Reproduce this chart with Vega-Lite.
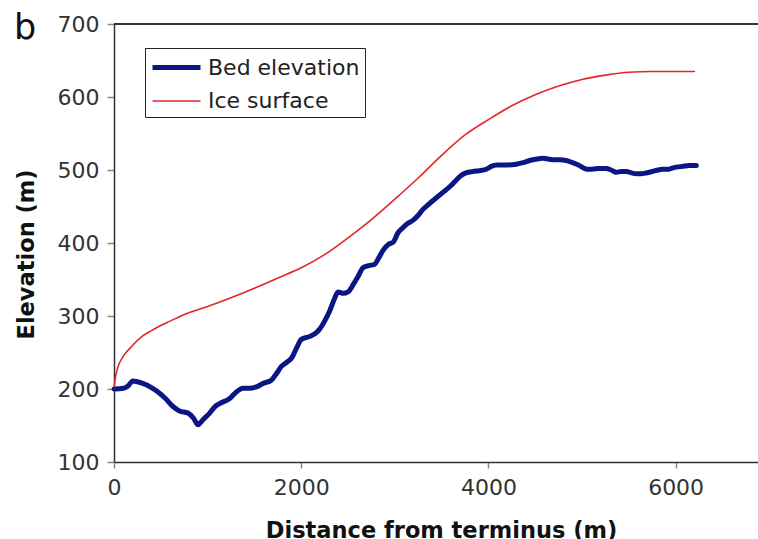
{
  "$schema": "https://vega.github.io/schema/vega-lite/v6.json",
  "width": 644,
  "height": 438,
  "autosize": "none",
  "padding": {"left": 114, "top": 24, "right": 0, "bottom": 77},
  "background": "white",
  "title": {"text": "b", "anchor": "start", "frame": "group", "orient": "top", "fontSize": 35, "fontWeight": "normal", "font": "DejaVu Sans", "color": "#111", "baseline": "alphabetic", "offset": 0, "dx": -100, "dy": 61},
  "config": {
    "view": {"stroke": null},
    "font": "DejaVu Sans",
    "axis": {"labelFont": "DejaVu Sans", "titleFont": "DejaVu Sans", "labelColor": "#333", "titleColor": "#111", "domainColor": "#333", "domainWidth": 1.5, "tickColor": "#888", "tickWidth": 1.5, "grid": false}
  },
  "data": {"values": [
    {"d": 0, "e": 200, "s": "Bed elevation"},
    {"d": 100, "e": 201, "s": "Bed elevation"},
    {"d": 150, "e": 204, "s": "Bed elevation"},
    {"d": 200, "e": 211, "s": "Bed elevation"},
    {"d": 300, "e": 208, "s": "Bed elevation"},
    {"d": 400, "e": 202, "s": "Bed elevation"},
    {"d": 470, "e": 196, "s": "Bed elevation"},
    {"d": 550, "e": 187, "s": "Bed elevation"},
    {"d": 630, "e": 176, "s": "Bed elevation"},
    {"d": 700, "e": 170, "s": "Bed elevation"},
    {"d": 790, "e": 167, "s": "Bed elevation"},
    {"d": 850, "e": 160, "s": "Bed elevation"},
    {"d": 897, "e": 151, "s": "Bed elevation"},
    {"d": 950, "e": 158, "s": "Bed elevation"},
    {"d": 1022, "e": 167, "s": "Bed elevation"},
    {"d": 1080, "e": 176, "s": "Bed elevation"},
    {"d": 1129, "e": 180, "s": "Bed elevation"},
    {"d": 1236, "e": 187, "s": "Bed elevation"},
    {"d": 1300, "e": 195, "s": "Bed elevation"},
    {"d": 1378, "e": 201, "s": "Bed elevation"},
    {"d": 1450, "e": 201, "s": "Bed elevation"},
    {"d": 1521, "e": 203, "s": "Bed elevation"},
    {"d": 1600, "e": 208, "s": "Bed elevation"},
    {"d": 1681, "e": 212, "s": "Bed elevation"},
    {"d": 1740, "e": 222, "s": "Bed elevation"},
    {"d": 1788, "e": 231, "s": "Bed elevation"},
    {"d": 1850, "e": 237, "s": "Bed elevation"},
    {"d": 1895, "e": 242, "s": "Bed elevation"},
    {"d": 1950, "e": 256, "s": "Bed elevation"},
    {"d": 2001, "e": 268, "s": "Bed elevation"},
    {"d": 2091, "e": 272, "s": "Bed elevation"},
    {"d": 2150, "e": 276, "s": "Bed elevation"},
    {"d": 2197, "e": 282, "s": "Bed elevation"},
    {"d": 2250, "e": 293, "s": "Bed elevation"},
    {"d": 2304, "e": 307, "s": "Bed elevation"},
    {"d": 2350, "e": 322, "s": "Bed elevation"},
    {"d": 2393, "e": 333, "s": "Bed elevation"},
    {"d": 2450, "e": 331, "s": "Bed elevation"},
    {"d": 2500, "e": 333, "s": "Bed elevation"},
    {"d": 2560, "e": 344, "s": "Bed elevation"},
    {"d": 2607, "e": 354, "s": "Bed elevation"},
    {"d": 2660, "e": 366, "s": "Bed elevation"},
    {"d": 2720, "e": 369, "s": "Bed elevation"},
    {"d": 2785, "e": 371, "s": "Bed elevation"},
    {"d": 2830, "e": 380, "s": "Bed elevation"},
    {"d": 2874, "e": 390, "s": "Bed elevation"},
    {"d": 2930, "e": 398, "s": "Bed elevation"},
    {"d": 2981, "e": 401, "s": "Bed elevation"},
    {"d": 3034, "e": 414, "s": "Bed elevation"},
    {"d": 3087, "e": 421, "s": "Bed elevation"},
    {"d": 3140, "e": 427, "s": "Bed elevation"},
    {"d": 3194, "e": 431, "s": "Bed elevation"},
    {"d": 3250, "e": 438, "s": "Bed elevation"},
    {"d": 3301, "e": 446, "s": "Bed elevation"},
    {"d": 3370, "e": 454, "s": "Bed elevation"},
    {"d": 3444, "e": 462, "s": "Bed elevation"},
    {"d": 3510, "e": 469, "s": "Bed elevation"},
    {"d": 3586, "e": 477, "s": "Bed elevation"},
    {"d": 3640, "e": 484, "s": "Bed elevation"},
    {"d": 3693, "e": 491, "s": "Bed elevation"},
    {"d": 3760, "e": 496, "s": "Bed elevation"},
    {"d": 3835, "e": 498, "s": "Bed elevation"},
    {"d": 3900, "e": 499, "s": "Bed elevation"},
    {"d": 3978, "e": 501, "s": "Bed elevation"},
    {"d": 4030, "e": 505, "s": "Bed elevation"},
    {"d": 4085, "e": 507, "s": "Bed elevation"},
    {"d": 4200, "e": 507, "s": "Bed elevation"},
    {"d": 4298, "e": 508, "s": "Bed elevation"},
    {"d": 4370, "e": 510, "s": "Bed elevation"},
    {"d": 4440, "e": 513, "s": "Bed elevation"},
    {"d": 4520, "e": 515, "s": "Bed elevation"},
    {"d": 4582, "e": 516, "s": "Bed elevation"},
    {"d": 4689, "e": 514, "s": "Bed elevation"},
    {"d": 4760, "e": 514, "s": "Bed elevation"},
    {"d": 4832, "e": 513, "s": "Bed elevation"},
    {"d": 4900, "e": 510, "s": "Bed elevation"},
    {"d": 4974, "e": 506, "s": "Bed elevation"},
    {"d": 5030, "e": 502, "s": "Bed elevation"},
    {"d": 5081, "e": 501, "s": "Bed elevation"},
    {"d": 5170, "e": 502, "s": "Bed elevation"},
    {"d": 5259, "e": 502, "s": "Bed elevation"},
    {"d": 5310, "e": 500, "s": "Bed elevation"},
    {"d": 5366, "e": 497, "s": "Bed elevation"},
    {"d": 5420, "e": 498, "s": "Bed elevation"},
    {"d": 5473, "e": 498, "s": "Bed elevation"},
    {"d": 5530, "e": 496, "s": "Bed elevation"},
    {"d": 5580, "e": 495, "s": "Bed elevation"},
    {"d": 5630, "e": 495, "s": "Bed elevation"},
    {"d": 5687, "e": 496, "s": "Bed elevation"},
    {"d": 5780, "e": 499, "s": "Bed elevation"},
    {"d": 5864, "e": 501, "s": "Bed elevation"},
    {"d": 5920, "e": 501, "s": "Bed elevation"},
    {"d": 5971, "e": 503, "s": "Bed elevation"},
    {"d": 6078, "e": 505, "s": "Bed elevation"},
    {"d": 6150, "e": 506, "s": "Bed elevation"},
    {"d": 6221, "e": 506, "s": "Bed elevation"},
    {"d": 0, "e": 203, "s": "Ice surface"},
    {"d": 25, "e": 222, "s": "Ice surface"},
    {"d": 50, "e": 233, "s": "Ice surface"},
    {"d": 100, "e": 245, "s": "Ice surface"},
    {"d": 200, "e": 260, "s": "Ice surface"},
    {"d": 300, "e": 272, "s": "Ice surface"},
    {"d": 400, "e": 280, "s": "Ice surface"},
    {"d": 500, "e": 287, "s": "Ice surface"},
    {"d": 600, "e": 293, "s": "Ice surface"},
    {"d": 750, "e": 302, "s": "Ice surface"},
    {"d": 1000, "e": 313, "s": "Ice surface"},
    {"d": 1250, "e": 325, "s": "Ice surface"},
    {"d": 1500, "e": 338, "s": "Ice surface"},
    {"d": 1750, "e": 352, "s": "Ice surface"},
    {"d": 2000, "e": 366, "s": "Ice surface"},
    {"d": 2250, "e": 384, "s": "Ice surface"},
    {"d": 2500, "e": 407, "s": "Ice surface"},
    {"d": 2750, "e": 432, "s": "Ice surface"},
    {"d": 3000, "e": 460, "s": "Ice surface"},
    {"d": 3250, "e": 489, "s": "Ice surface"},
    {"d": 3500, "e": 520, "s": "Ice surface"},
    {"d": 3750, "e": 548, "s": "Ice surface"},
    {"d": 4000, "e": 569, "s": "Ice surface"},
    {"d": 4250, "e": 588, "s": "Ice surface"},
    {"d": 4500, "e": 603, "s": "Ice surface"},
    {"d": 4750, "e": 615, "s": "Ice surface"},
    {"d": 5000, "e": 624, "s": "Ice surface"},
    {"d": 5250, "e": 630, "s": "Ice surface"},
    {"d": 5500, "e": 634, "s": "Ice surface"},
    {"d": 5750, "e": 635, "s": "Ice surface"},
    {"d": 6000, "e": 635, "s": "Ice surface"},
    {"d": 6200, "e": 635, "s": "Ice surface"}
  ]},
  "layer": [
    {
      "mark": {"type": "rule", "color": "#333", "strokeWidth": 1.5},
      "encoding": {"y": {"datum": 700, "type": "quantitative", "scale": {"domain": [100, 700], "nice": false, "zero": false}}}
    },
    {
      "mark": {"type": "line", "interpolate": "monotone", "strokeCap": "round", "strokeJoin": "round"},
      "encoding": {
        "x": {"field": "d", "type": "quantitative", "scale": {"domain": [0, 6880], "nice": false},
          "axis": {"values": [0, 2000, 4000, 6000], "format": "d", "title": "Distance from terminus (m)", "titleFontSize": 22.5, "titleFontWeight": "bold", "titleX": 327, "titleY": 68, "titleBaseline": "middle", "labelFontSize": 22, "tickSize": 6, "labelPadding": 9, "labelFlush": false}},
        "y": {"field": "e", "type": "quantitative", "scale": {"domain": [100, 700], "nice": false, "zero": false},
          "axis": {"values": [100, 200, 300, 400, 500, 600, 700], "format": "d", "title": "Elevation (m)", "titleFontSize": 22.5, "titleFontWeight": "bold", "titleX": -88, "titleY": 230, "titleBaseline": "middle", "titleAngle": 270, "labelFontSize": 22, "tickSize": 7, "labelPadding": 8}},
        "color": {"field": "s", "type": "nominal", "scale": {"domain": ["Bed elevation", "Ice surface"], "range": ["#0b1584", "#e3262a"]},
          "legend": {"title": null, "orient": "none", "legendX": 31, "legendY": 24, "symbolType": "M-1,0H3", "symbolSize": 576, "labelFontSize": 22, "labelFont": "DejaVu Sans", "labelColor": "#222", "strokeColor": "#222", "padding": 5, "rowPadding": 9, "labelOffset": 29, "fillColor": "white"}},
        "strokeWidth": {"field": "s", "type": "nominal", "scale": {"domain": ["Bed elevation", "Ice surface"], "range": [5, 1.6]}, "legend": {"title": null, "orient": "none", "legendX": 31, "legendY": 24, "symbolType": "M-1,0H3", "symbolSize": 576, "labelFontSize": 22, "labelFont": "DejaVu Sans", "labelColor": "#222", "strokeColor": "#222", "padding": 5, "rowPadding": 9, "labelOffset": 29, "fillColor": "white"}}
      }
    }
  ]
}
